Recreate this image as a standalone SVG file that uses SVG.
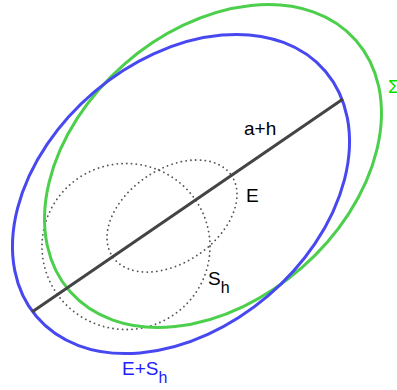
<svg xmlns="http://www.w3.org/2000/svg" width="397" height="390" viewBox="0 0 397 390">
<style>
text{font-family:"Liberation Sans",Arial,sans-serif;font-size:19px}
.sub{font-size:16px}
.solid{fill:none;stroke-width:3}
.dot{fill:none;stroke:#555;stroke-width:1.8;stroke-dasharray:0.1 4.7;stroke-linecap:round}
</style>
<rect width="397" height="390" fill="#fff"/>
<g id="Sh">
<ellipse class="dot" cx="126" cy="246.5" rx="84" ry="83"/>
<text x="208" y="285" fill="#000">S<tspan class="sub" dy="8">h</tspan></text>
</g>
<g id="E">
<ellipse class="dot" cx="172" cy="216" rx="72" ry="46.7" transform="rotate(-34.4 172 216)"/>
<text x="246" y="202" fill="#000">E</text>
</g>
<g id="Sigma">
<ellipse class="solid" stroke="#4ccf4c" cx="213" cy="166" rx="190.3" ry="135" transform="rotate(-41.3 213 166)"/>
<text x="388" y="93" fill="#00e000">Σ</text>
</g>
<g id="EplusSh">
<ellipse class="solid" stroke="#4848f0" cx="181" cy="194" rx="189.5" ry="134" transform="rotate(-40.3 181 194)"/>
<text x="122" y="375" fill="#2020ff">E+S<tspan class="sub" dy="8">h</tspan></text>
</g>
<g id="connectors">
<line x1="32" y1="312" x2="343" y2="99" stroke="#444" stroke-width="3"/>
<text x="244" y="135" fill="#000">a+h</text>
</g>
</svg>
